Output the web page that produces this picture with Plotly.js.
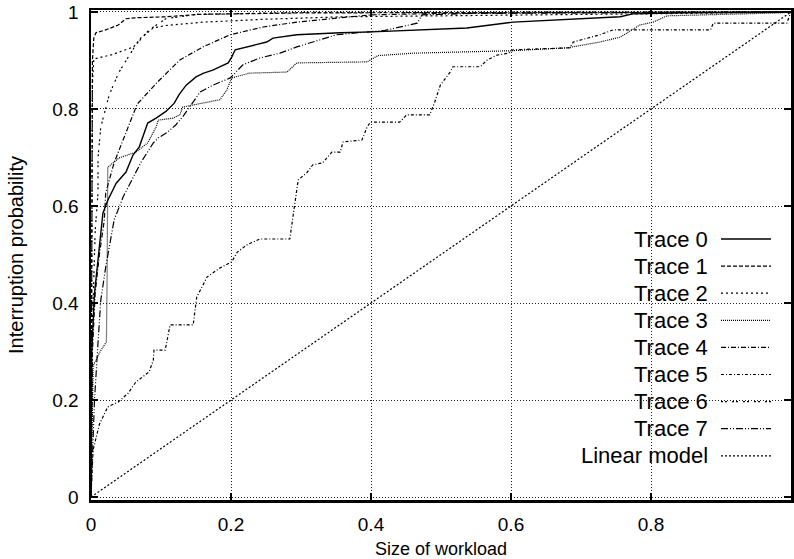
<!DOCTYPE html>
<html>
<head>
<meta charset="utf-8">
<script src="https://cdn.plot.ly/plotly-3.0.1.min.js"></script>
<style>html,body{margin:0;padding:0;background:#fff;}#chart{width:794px;height:559px;}</style>
</head>
<body>
<div id="chart"></div>
<script>
// ---------- data ----------
const traceNames = ["Trace 0","Trace 1","Trace 2","Trace 3","Trace 4","Trace 5","Trace 6","Trace 7","Linear model"];

const t0x = [0,0.001,0.005,0.011,0.017,0.024,0.03,0.036,0.05,0.06,0.069,0.076,0.081,0.093,0.107,0.119,0.126,0.136,0.15,0.161,0.174,0.196,0.201,0.206,0.223,0.251,0.26,0.294,0.356,0.401,0.537,0.603,0.756,0.774,0.85,1];
const t0y = [0,0.3,0.42,0.509,0.585,0.612,0.63,0.647,0.67,0.705,0.722,0.75,0.771,0.781,0.795,0.812,0.83,0.849,0.866,0.874,0.88,0.895,0.907,0.922,0.928,0.938,0.946,0.953,0.957,0.959,0.967,0.979,0.99,0.996,0.998,1];

const t1x = [0,0.002,0.004,0.007,0.021,0.039,0.05,0.064,0.107,0.154,0.3,0.5,1];
const t1y = [0,0.9,0.946,0.957,0.963,0.973,0.986,0.988,0.99,0.995,0.998,0.999,1];

const t2x = [0,0.002,0.004,0.03,0.061,0.071,0.089,0.107,0.16,0.25,0.36,0.6,0.85,1];
const t2y = [0,0.85,0.903,0.912,0.928,0.946,0.967,0.972,0.979,0.985,0.99,0.993,0.997,1];

const t3x = [0,0.003,0.013,0.022,0.023,0.023,0.024,0.04,0.064,0.081,0.093,0.096,0.117,0.127,0.131,0.184,0.194,0.201,0.227,0.28,0.294,0.394,0.41,0.46,0.6,0.68,0.727,0.756,0.784,0.803,0.823,0.984,1];
const t3y = [0,0.27,0.3,0.32,0.45,0.6,0.68,0.699,0.711,0.73,0.763,0.777,0.781,0.788,0.804,0.819,0.839,0.864,0.874,0.876,0.895,0.897,0.91,0.915,0.92,0.926,0.938,0.948,0.973,0.979,0.992,0.998,1];

const t4x = [0,0.002,0.006,0.012,0.019,0.021,0.033,0.05,0.066,0.094,0.127,0.16,0.199,0.246,0.294,0.356,0.401,0.5,1];
const t4y = [0,0.3,0.42,0.5,0.571,0.627,0.689,0.75,0.81,0.854,0.901,0.928,0.953,0.969,0.979,0.988,0.994,0.997,1];

const t5x = [0,0.003,0.012,0.024,0.039,0.053,0.064,0.083,0.089,0.09,0.106,0.113,0.146,0.151,0.166,0.184,0.201,0.209,0.223,0.241,0.284,0.296,0.308,0.317,0.331,0.344,0.356,0.36,0.387,0.394,0.399,0.441,0.451,0.484,0.491,0.499,0.513,0.517,0.556,0.566,0.58,0.596,0.603,0.684,0.689,0.709,0.727,0.746,0.885,0.889,0.994,1];
const t5y = [0,0.097,0.15,0.186,0.196,0.214,0.237,0.258,0.282,0.303,0.303,0.355,0.355,0.412,0.454,0.472,0.485,0.505,0.52,0.532,0.532,0.654,0.668,0.685,0.689,0.711,0.711,0.732,0.736,0.761,0.773,0.773,0.788,0.788,0.814,0.849,0.876,0.887,0.887,0.901,0.911,0.915,0.922,0.926,0.938,0.946,0.953,0.963,0.963,0.977,0.977,1];

const t6x = [0,0.002,0.006,0.01,0.01,0.014,0.024,0.026,0.04,0.064,0.083,0.107,0.15,0.3,1];
const t6y = [0,0.35,0.55,0.627,0.7,0.763,0.818,0.829,0.876,0.932,0.963,0.986,0.995,0.999,1];

const t7x = [0,0.005,0.01,0.014,0.021,0.033,0.046,0.06,0.071,0.089,0.096,0.11,0.121,0.131,0.156,0.174,0.199,0.217,0.241,0.27,0.294,0.317,0.351,0.42,0.466,0.473,0.55,1];
const t7y = [0,0.2,0.318,0.406,0.474,0.571,0.619,0.66,0.689,0.73,0.74,0.753,0.767,0.784,0.835,0.849,0.864,0.891,0.905,0.915,0.928,0.938,0.953,0.962,0.977,0.994,0.997,1];

const linX = [0,1];
const linY = [0,1];

const xTickVals = [0,0.2,0.4,0.6,0.8,1];
const xTickText = ["0","0.2","0.4","0.6","0.8","1"];
const yTickVals = [0,0.2,0.4,0.6,0.8,1];
const yTickText = ["0","0.2","0.4","0.6","0.8","1"];

// ---------- styles ----------
const seriesX = [t0x,t1x,t2x,t3x,t4x,t5x,t6x,t7x,linX];
const seriesY = [t0y,t1y,t2y,t3y,t4y,t5y,t6y,t7y,linY];
const dashes = ["solid","4px,2px","2px,3px","1px,1px","5px,2px,1px,2px","3px,2px,1px,2px","2px,2px,2px,5px","7px,2px,1px,2px,1px,2px","2px,2px"];
const widths = [1.4,1.2,1.2,1.2,1.2,1.2,1.2,1.2,1.2];

const FONT = "Liberation Sans, Arial, Helvetica, sans-serif";
const W = 794, H = 559;
const M = {l:91, r:3, t:10, b:59};
const pw = W - M.l - M.r, ph = H - M.t - M.b;
const px2paper = px => (px - M.l) / pw;
const py2paper = py => (H - M.b - py) / ph;

const traces = seriesX.map((xs, i) => ({
  type: "scatter", mode: "lines", x: xs, y: seriesY[i], name: traceNames[i],
  line: {color: "#000", width: widths[i], dash: dashes[i]},
  showlegend: false, hoverinfo: "skip"
}));

// custom legend: text right-aligned, sample on right (gnuplot style)
const shapes = [{
  type: "rect", xref: "paper", yref: "paper", layer: "between",
  x0: px2paper(578), x1: px2paper(783), y0: py2paper(494), y1: py2paper(199),
  fillcolor: "#fff", line: {width: 0}
}];
const annotations = [];
const rowTop = 239, rowStep = 27.1;
traceNames.forEach((nm, i) => {
  const yy = py2paper(rowTop + i * rowStep);
  annotations.push({
    xref: "paper", yref: "paper", x: px2paper(710), y: yy, xanchor: "right", yanchor: "middle",
    text: nm, showarrow: false, font: {family: FONT, size: 22, color: "#000"}
  });
  shapes.push({
    type: "line", xref: "paper", yref: "paper", layer: "above",
    x0: px2paper(721), x1: px2paper(771), y0: yy, y1: yy,
    line: {color: "#000", width: widths[i], dash: dashes[i]}
  });
});

const axisCommon = {
  showline: true, linecolor: "#000", linewidth: 2.5, mirror: "allticks",
  ticks: "inside", ticklen: 7, tickwidth: 2, tickcolor: "#000",
  showgrid: true, gridcolor: "#222", gridwidth: 1, griddash: "1px,2px",
  zeroline: false, tickfont: {family: FONT, size: 19, color: "#000"}, fixedrange: true
};

const layout = {
  width: W, height: H, margin: M, paper_bgcolor: "#fff", plot_bgcolor: "#fff",
  showlegend: false,
  xaxis: Object.assign({}, axisCommon, {
    range: [0, 1], tickmode: "array", tickvals: xTickVals, ticktext: xTickText,
    ticklabelstandoff: 6,
    title: {text: "Size of workload", font: {family: FONT, size: 18, color: "#000"}, standoff: 10}
  }),
  yaxis: Object.assign({}, axisCommon, {
    range: [-0.006, 1.004], tickmode: "array", tickvals: yTickVals, ticktext: yTickText,
    ticklabelstandoff: 6,
    title: {text: "Interruption probability", font: {family: FONT, size: 20, color: "#000"}, standoff: 24}
  }),
  shapes: shapes, annotations: annotations
};

Plotly.newPlot("chart", traces, layout, {displayModeBar: false, staticPlot: true});
</script>
</body>
</html>
